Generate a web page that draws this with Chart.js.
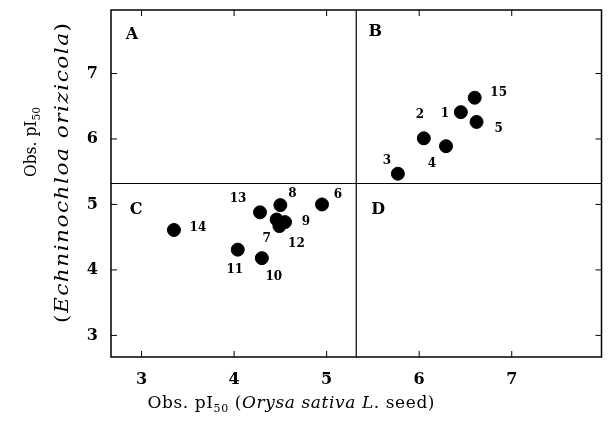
<!DOCTYPE html>
<html>
<head>
<meta charset="utf-8">
<script src="https://cdn.jsdelivr.net/npm/chart.js@4"></script>
<style>
html, body { margin:0; padding:0; background:#fff; }
#wrap { width:609px; height:421px; }
</style>
</head>
<body>
<div id="wrap"><canvas id="chart"></canvas></div>
<script>
// compound numbers and observed pI50 values
const compoundIds = ["1","2","3","4","5","6","7","8","9","10","11","12","13","14","15"];
const riceValues  = [6.45, 6.05, 5.77, 6.29, 6.62, 4.95, 4.46, 4.50, 4.55, 4.30, 4.04, 4.49, 4.28, 3.35, 6.60];
const weedValues  = [6.41, 6.01, 5.47, 5.89, 6.26, 5.00, 4.77, 4.99, 4.73, 4.18, 4.31, 4.67, 4.88, 4.61, 6.63];
const tickValues  = [3, 4, 5, 6, 7];
const quadrantNames = ["A", "B", "C", "D"];
const dividerX = 5.32;
const dividerY = 5.32;

// label offsets (px) from each dot
const labelOffsets = [
  [-16, 2], [-4, -23], [-11, -13], [-14, 18], [22, 7],
  [16, -10], [-10, 19], [12, -11], [21, 0], [12, 19],
  [-3, 20], [17, 18], [-22, -13], [24, -2], [24, -5]
];

const points = riceValues.map((x, i) => ({ x: x, y: weedValues[i] }));

const SERIF = '"DejaVu Serif", "Liberation Serif", serif';

// draw mixed-font text centred on (cx, cy); widened a little, then spaced out to target width
function drawRich(ctx, parts, cx, cy, target, maxStretch) {
  let total = 0, n = 0;
  parts.forEach(p => { ctx.font = p.f; p.w = ctx.measureText(p.t).width; total += p.w; n += p.t.length; });
  const k = target ? Math.min(target / total, maxStretch || 1.15) : 1;
  const gap = target ? Math.max(0, (target / k - total) / Math.max(n - 1, 1)) : 0;
  ctx.save();
  ctx.translate(cx, cy);
  ctx.scale(k, 1);
  let x = -(total + gap * (n - 1)) / 2;
  ctx.textAlign = "left";
  ctx.textBaseline = "middle";
  parts.forEach(p => {
    ctx.font = p.f;
    for (const ch of p.t) {
      ctx.fillText(ch, x, p.dy || 0);
      x += ctx.measureText(ch).width + gap;
    }
  });
  ctx.restore();
}

const decor = {
  id: "decor",
  afterDraw(chart) {
    const ctx = chart.ctx;
    const a = chart.chartArea;
    const xs = chart.scales.x, ys = chart.scales.y;
    ctx.save();
    ctx.strokeStyle = "#000";
    ctx.lineWidth = 1.5;
    ctx.strokeRect(a.left, a.top, a.right - a.left, a.bottom - a.top);

    // quadrant dividers
    const dx = xs.getPixelForValue(dividerX);
    const dy = ys.getPixelForValue(dividerY);
    ctx.lineWidth = 1.2;
    ctx.beginPath();
    ctx.moveTo(dx, a.top); ctx.lineTo(dx, a.bottom);
    ctx.moveTo(a.left, dy); ctx.lineTo(a.right, dy);
    ctx.stroke();

    // inward ticks on all four sides
    ctx.lineWidth = 1;
    ctx.beginPath();
    tickValues.forEach(v => {
      const px = xs.getPixelForValue(v);
      ctx.moveTo(px, a.bottom); ctx.lineTo(px, a.bottom - 6);
      ctx.moveTo(px, a.top); ctx.lineTo(px, a.top + 6);
      const py = ys.getPixelForValue(v);
      ctx.moveTo(a.left, py); ctx.lineTo(a.left + 6, py);
      ctx.moveTo(a.right, py); ctx.lineTo(a.right - 6, py);
    });
    ctx.stroke();

    // quadrant letters
    ctx.fillStyle = "#000";
    ctx.font = "bold 16px " + SERIF;
    ctx.textAlign = "center";
    ctx.textBaseline = "middle";
    ctx.fillText(quadrantNames[0], a.left + 21, a.top + 25);
    ctx.fillText(quadrantNames[1], dx + 19, a.top + 22);
    ctx.fillText(quadrantNames[2], a.left + 25, dy + 26);
    ctx.fillText(quadrantNames[3], dx + 22, dy + 26);

    // point labels
    ctx.font = "bold 12px " + SERIF;
    const meta = chart.getDatasetMeta(0);
    meta.data.forEach((el, i) => {
      const o = labelOffsets[i];
      ctx.fillText(compoundIds[i], el.x + o[0], el.y + o[1]);
    });

    // axis titles
    const reg = "17px " + SERIF, ita = "italic 17px " + SERIF, sub = "11px " + SERIF;
    drawRich(ctx, [
      { t: "Obs. pI", f: reg }, { t: "50", f: sub, dy: 5 },
      { t: " (", f: reg }, { t: "Orysa sativa L.", f: ita }, { t: " seed)", f: reg }
    ], 291, 404, 287, 1.0);

    const reg2 = "16px " + SERIF;
    ctx.save();
    ctx.translate(32, 142);
    ctx.rotate(-Math.PI / 2);
    drawRich(ctx, [{ t: "Obs. pI", f: reg2 }, { t: "50", f: sub, dy: 5 }], 0, 0, 70, 1.0);
    ctx.restore();
    const reg3 = "18px " + SERIF, ita3 = "italic 18px " + SERIF;
    ctx.save();
    ctx.translate(63, 173);
    ctx.rotate(-Math.PI / 2);
    drawRich(ctx, [{ t: "(", f: reg3 }, { t: "Echninochloa orizicola", f: ita3 }, { t: ")", f: reg3 }], 0, 0, 300, 1.2);
    ctx.restore();

    ctx.restore();
  }
};

const setTicks = s => { s.ticks = tickValues.map(v => ({ value: v })); };

new Chart(document.getElementById("chart"), {
  type: "scatter",
  data: {
    datasets: [{
      data: points,
      backgroundColor: "#000",
      borderColor: "#000",
      pointRadius: 6.5,
      pointHoverRadius: 6.5
    }]
  },
  options: {
    responsive: true,
    maintainAspectRatio: false,
    animation: false,
    layout: { padding: { left: 0, right: 5, top: 10, bottom: 0 } },
    plugins: { legend: { display: false }, tooltip: { enabled: false } },
    scales: {
      x: {
        type: "linear",
        min: 2.67, max: 7.97,
        afterBuildTicks: setTicks,
        afterFit: s => { s.height = 64; s.paddingLeft = 0; s.paddingRight = 0; },
        grid: { display: false, drawTicks: false },
        border: { display: false },
        ticks: { color: "#000", padding: 13, font: { family: SERIF, size: 16, weight: "bold" } }
      },
      y: {
        type: "linear",
        min: 2.67, max: 7.97,
        afterBuildTicks: setTicks,
        afterFit: s => { s.width = 111; s.paddingTop = 0; s.paddingBottom = 0; },
        grid: { display: false, drawTicks: false },
        border: { display: false },
        ticks: { color: "#000", padding: 13, font: { family: SERIF, size: 16, weight: "bold" } }
      }
    }
  },
  plugins: [decor]
});
</script>
</body>
</html>
